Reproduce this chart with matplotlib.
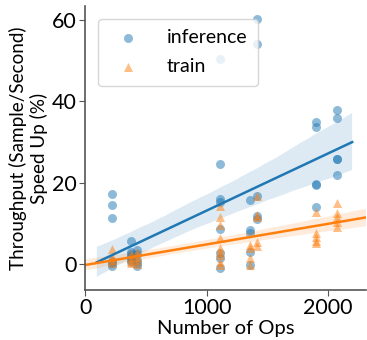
import numpy as np
import matplotlib
matplotlib.use("Agg")
import matplotlib.pyplot as plt
import seaborn as sns

# valores
inf_x = [218] * 6 + [375] * 7 + [430] * 5 + [1107] * 8 + [1358] * 5 + [1415] * 5 + [1899] * 5 + [2076] * 5
inf_y = [17.1, 14.5, 11.4, 0.8, 0.3, -0.4,
         5.7, 3.0, 2.5, 2.0, 1.5, 1.0, 0.5,
         3.4, 2.5, 1.0, 0.2, -0.6,
         50.3, 24.7, 16.1, 15.2, 8.5, 2.6, 1.4, -1.1,
         15.7, 8.4, 7.7, 3.0, -0.2,
         60.3, 54.2, 16.7, 11.8, 11.0,
         35.0, 33.8, 19.6, 19.4, 13.9,
         37.8, 35.8, 25.9, 25.8, 22.0]

tr_x = [218] * 4 + [375] * 4 + [430] * 4 + [1107] * 9 + [1358] * 4 + [1415] * 5 + [1899] * 5 + [2076] * 5
tr_y = [3.8, 1.8, 1.0, 0.3,
        2.5, 1.5, 0.8, 0.2,
        3.0, 1.8, 0.9, 0.0,
        14.2, 11.6, 9.6, 6.3, 3.9, 3.0, 2.2, 0.6, -0.2,
        4.7, 3.9, 1.4, -0.2,
        16.8, 12.0, 11.5, 5.5, 4.3,
        12.9, 7.5, 6.7, 5.7, 5.1,
        14.9, 12.5, 11.6, 10.4, 9.2]

plt.rcParams['font.family'] = ['Lato', 'DejaVu Sans']
plt.rcParams['font.size'] = 14

fig = plt.figure(figsize=(3.67, 3.4), dpi=100)
ax = fig.add_axes([0.232, 0.147, 0.765, 0.835])

azul = '#1f77b4'
naranja = '#ff7f0e'

# la recta azul solo cubre el rango inicial de los ejes
ax.set_xlim(96, 2197)
sns.regplot(x=np.array(inf_x), y=np.array(inf_y), ax=ax, truncate=False, seed=0,
            color=azul, marker='o', label='inference',
            scatter_kws={'s': 42, 'alpha': 0.5, 'linewidths': 0},
            line_kws={'lw': 1.8})
ax.set_xlim(-200, 2500)
sns.regplot(x=np.array(tr_x), y=np.array(tr_y), ax=ax, truncate=False, seed=0,
            color=naranja, marker='^', label='train',
            scatter_kws={'s': 42, 'alpha': 0.5, 'linewidths': 0},
            line_kws={'lw': 1.8})

ax.set_xlim(0, 2310)
ax.set_ylim(-6.4, 63.4)
ax.set_xticks([0, 1000, 2000])
ax.set_yticks([0, 20, 40, 60])
ax.set_xlabel('Number of Ops', fontsize=14.5, labelpad=1)
ax.set_ylabel('Throughput (Sample/Second)\nSpeed Up (%)', fontsize=13.6, labelpad=3, linespacing=1.15)

for lado in ['top', 'right']:
    ax.spines[lado].set_visible(False)
for lado in ['left', 'bottom']:
    ax.spines[lado].set_color('#555555')
    ax.spines[lado].set_linewidth(1.2)
ax.tick_params(colors='#555555', labelcolor='black', labelsize=15.5, length=4, pad=2)

handles, labels = ax.get_legend_handles_labels()
ax.legend(handles[:1] + handles[-1:], labels[:1] + labels[-1:], loc='upper left',
          fontsize=14, handletextpad=1.0, borderpad=0.55, labelspacing=0.6,
          bbox_to_anchor=(0.01, 0.99))

fig.savefig('out.png', dpi=100)
